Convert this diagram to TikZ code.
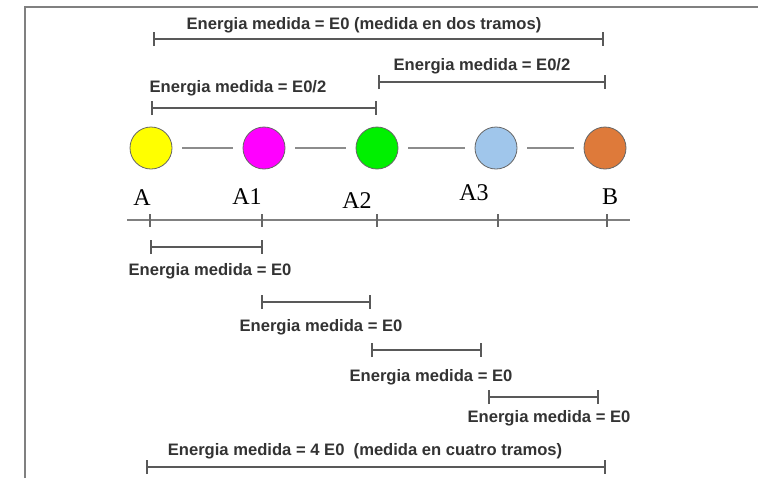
\documentclass[tikz,border=0pt]{standalone}
\usepackage{fontspec}
\setmainfont{Liberation Serif}
\setsansfont{Liberation Sans}
\usetikzlibrary{arrows.meta}

\definecolor{amarillo}{RGB}{255,255,0}
\definecolor{magenta1}{RGB}{255,0,255}
\definecolor{verde}{RGB}{0,240,0}
\definecolor{celeste}{RGB}{160,198,235}
\definecolor{naranja}{RGB}{222,122,58}

\tikzset{
  bola/.style={circle, draw=black!60, line width=0.4pt, minimum size=21pt, inner sep=0pt},
  enlace/.style={draw=black!45, line width=0.9pt, shorten >=5pt, shorten <=5pt},
  tramo/.style={draw=black!65, line width=0.8pt, {Bar[width=7pt]}-{Bar[width=7pt]}},
  etiq/.style={font=\sffamily\bfseries\fontsize{8.3}{10}\selectfont, text=black!80, inner sep=0pt},
  punto/.style={font=\fontsize{12}{14}\selectfont, inner sep=0pt},
}

\begin{document}
\begin{tikzpicture}[x=0.5pt, y=-0.5pt]
  \useasboundingbox (0,0) rectangle (758,478);
  \fill[white] (0,0) rectangle (758,478);
  \draw[black!50, line width=1pt] (25,478) -- (25,7) -- (758,7);

  % medidas de arriba
  \node[etiq] (e0dos) at (364,25) {Energia medida = E0 (medida en dos tramos)};
  \coordinate (s1a) at (153,39);
  \coordinate (s1b) at (604,39);
  \draw[tramo] (s1a) -- (s1b);

  \node[etiq] (medder) at (482,66) {Energia medida = E0/2};
  \coordinate (s2a) at (378,82);
  \coordinate (s2b) at (606,82);
  \draw[tramo] (s2a) -- (s2b);

  \node[etiq] (medizq) at (238,88) {Energia medida = E0/2};
  \coordinate (s3a) at (151,108);
  \coordinate (s3b) at (377,108);
  \draw[tramo] (s3a) -- (s3b);

  % bolas
  \node[bola, fill=amarillo] (cA) at (151,148) {};
  \node[bola, fill=magenta1] (cA1) at (264,148) {};
  \node[bola, fill=verde] (cA2) at (377,148) {};
  \node[bola, fill=celeste] (cA3) at (496,148) {};
  \node[bola, fill=naranja] (cB) at (605,148) {};

  \draw[enlace] (cA) -- (cA1);
  \draw[enlace] (cA1) -- (cA2);
  \draw[enlace] (cA2) -- (cA3);
  \draw[enlace] (cA3) -- (cB);

  \node[punto] (lA) at (142,198) {A};
  \node[punto] (lA1) at (247,197) {A1};
  \node[punto] (lA2) at (357,201) {A2};
  \node[punto] (lA3) at (474,193) {A3};
  \node[punto] (lB) at (610,197) {B};

  % eje
  \coordinate (ejeI) at (127,220);
  \coordinate (ejeD) at (630,220);
  \draw[black!50, line width=1pt] (ejeI) -- (ejeD);
  \coordinate (tA) at (150,220);
  \coordinate (tA1) at (262,220);
  \coordinate (tA2) at (377,220);
  \coordinate (tA3) at (498,220);
  \coordinate (tB) at (607,220);
  \draw[black!60, line width=0.6pt] (tA) ++(0,-6) -- ++(0,13);
  \draw[black!60, line width=0.6pt] (tA1) ++(0,-6) -- ++(0,13);
  \draw[black!60, line width=0.6pt] (tA2) ++(0,-6) -- ++(0,13);
  \draw[black!60, line width=0.6pt] (tA3) ++(0,-6) -- ++(0,13);
  \draw[black!60, line width=0.6pt] (tB) ++(0,-6) -- ++(0,13);

  % medidas de abajo
  \coordinate (u1a) at (150,247);
  \coordinate (u1b) at (263,247);
  \draw[tramo] (u1a) -- (u1b);
  \node[etiq] (med1) at (210,271) {Energia medida = E0};

  \coordinate (u2a) at (261,302);
  \coordinate (u2b) at (371,302);
  \draw[tramo] (u2a) -- (u2b);
  \node[etiq] (med2) at (321,327) {Energia medida = E0};

  \coordinate (u3a) at (371,350);
  \coordinate (u3b) at (482,350);
  \draw[tramo] (u3a) -- (u3b);
  \node[etiq] (med3) at (431,377) {Energia medida = E0};

  \coordinate (u4a) at (488,397);
  \coordinate (u4b) at (599,397);
  \draw[tramo] (u4a) -- (u4b);
  \node[etiq] (med4) at (549,418) {Energia medida = E0};

  \node[etiq] (e0cuatro) at (365,451) {Energia medida = 4 E0\ \ (medida en cuatro tramos)};
  \coordinate (u5a) at (146,467);
  \coordinate (u5b) at (606,467);
  \draw[tramo] (u5a) -- (u5b);
\end{tikzpicture}
\end{document}
